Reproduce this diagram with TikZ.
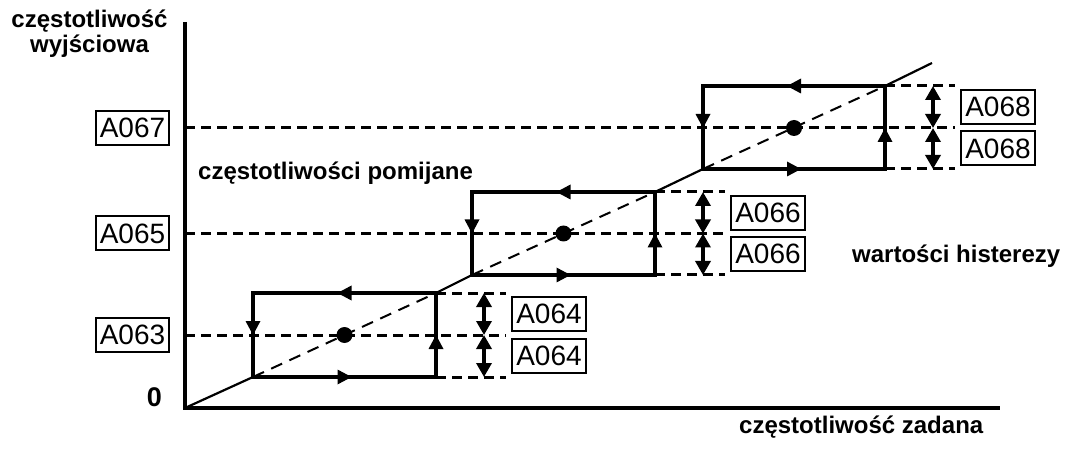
\documentclass[tikz,border=0pt]{standalone}
\usepackage{fontspec}
\setmainfont{Liberation Sans}
\usetikzlibrary{arrows.meta}
\begin{document}
\begin{tikzpicture}[x=1pt,y=-1pt,
  axisline/.style={line width=3.6pt},
  boxline/.style={line width=3.4pt, line join=miter},
  hdash/.style={line width=3pt, dash pattern=on 10pt off 6pt},
  diagline/.style={line width=2.2pt},
  diagdash/.style={line width=2pt, dash pattern=on 12pt off 8pt},
  lbl/.style={draw, line width=2pt, inner xsep=4pt, inner ysep=0pt, minimum height=34pt, font=\fontsize{28}{28}\selectfont},
  captxt/.style={font=\fontsize{24}{25}\selectfont\bfseries, inner sep=0pt},
  harr/.style={line width=3.4pt, {Triangle[length=14pt,width=15pt]}-{Triangle[length=14pt,width=15pt]}},
  tri/.style={fill=black},
]
\useasboundingbox (0,0) rectangle (1066,449);

% axes
\coordinate (O) at (185,408);
\coordinate (ytop) at (185,22);
\coordinate (xend) at (1000,408);
\draw[axisline] (ytop) -- (185,409.8);
\draw[axisline] (183.2,408) -- (xend);

% left labels
\node[lbl] (a067) at (132.5,128) {A067};
\node[lbl] (a065) at (132.5,233.5) {A065};
\node[lbl] (a063) at (132.5,335) {A063};

% boxes
\foreach \L/\R/\T/\M/\B/\n/\t in {253/436/293/335/377/1/A064, 472/655/192/233.5/275/2/A066, 703/885/86/128/169/3/A068}{
  \pgfmathsetmacro\Cx{(\L+\R)/2}
  \coordinate (bl\n) at (\L,\B);
  \coordinate (tr\n) at (\R,\T);
  \coordinate (ms\n) at (185,\M);
  \coordinate (me\n) at ({\R+70},\M);
  % dashed horizontals
  \draw[hdash] (ms\n) -- (me\n);
  \draw[hdash] (\R,\T) -- ({\R+70},\T);
  \draw[hdash] (\R,\B) -- ({\R+70},\B);
  % dashed diagonal inside box
  \draw[diagdash] (bl\n) -- (tr\n);
  % box
  \draw[boxline] (\L,\T) rectangle (\R,\B);
  % edge arrows
  \fill[tri] ({\Cx-7},\T) -- ({\Cx+7},{\T-7.5}) -- ({\Cx+7},{\T+7.5}) -- cycle;
  \fill[tri] ({\Cx+7},\B) -- ({\Cx-7},{\B-7.5}) -- ({\Cx-7},{\B+7.5}) -- cycle;
  \fill[tri] (\L,\M) -- ({\L-7.5},{\M-14}) -- ({\L+7.5},{\M-14}) -- cycle;
  \fill[tri] (\R,\M) -- ({\R-7.5},{\M+14}) -- ({\R+7.5},{\M+14}) -- cycle;
  % dot
  \fill (\Cx,\M) circle[radius=8pt];
  % hysteresis arrows
  \coordinate (ht\n) at ({\R+48},\T);
  \coordinate (hm\n) at ({\R+48},\M);
  \coordinate (hb\n) at ({\R+48},\B);
  \draw[harr] (ht\n) -- (hm\n);
  \draw[harr] (hm\n) -- (hb\n);
  % labels
  \node[lbl] (up\n) at ({\R+113},{(\T+\M)/2}) {\t};
  \node[lbl] (lo\n) at ({\R+113},{(\M+\B)/2}) {\t};
}

% solid diagonal segments
\coordinate (E) at (932,63);
\draw[diagline] (O) -- (bl1);
\draw[diagline] (tr1) -- (bl2);
\draw[diagline] (tr2) -- (bl3);
\draw[diagline] (tr3) -- (E);

% captions
\node[captxt, anchor=base] (yl1) at (89.5,28) {częstotliwość};
\node[captxt, anchor=base] (yl2) at (89.5,53) {wyjściowa};
\node[captxt, anchor=base west] (skip) at (198,180) {częstotliwości pomijane};
\node[captxt, anchor=base west] (hyst) at (852,263) {wartości histerezy};
\node[captxt, anchor=base west] (xl) at (739,433) {częstotliwość zadana};
\node[captxt, anchor=base, font=\fontsize{27}{27}\selectfont\bfseries] (zero) at (154.5,406) {0};
\end{tikzpicture}
\end{document}
